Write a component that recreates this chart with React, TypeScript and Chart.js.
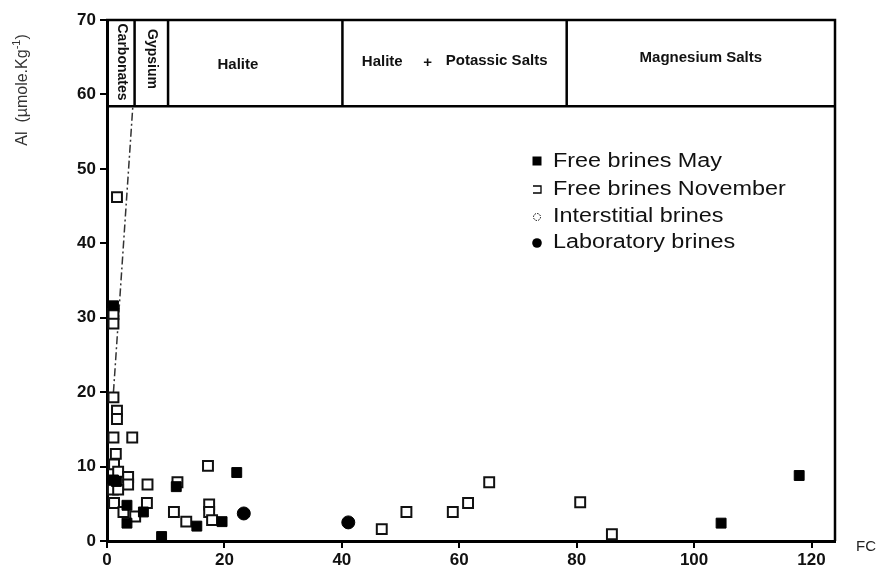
import React, { useEffect, useRef } from "react";
import { Chart, registerables } from "chart.js";

Chart.register(...registerables);

// ---- Data (FC, Al) ----
const mayFC = [1.1, 1.1, 1.6, 3.4, 3.4, 6.2, 9.3, 11.8, 15.3, 19.6, 22.1, 104.6, 117.9];
const mayAl = [31.6, 8.2, 8.0, 4.8, 2.4, 3.9, 0.6, 7.3, 2.0, 2.6, 9.2, 2.4, 8.8];

const novFC = [1.7, 1.1, 1.1, 1.1, 1.7, 1.7, 1.1, 4.3, 1.5, 1.2, 1.9, 3.6, 3.6, 1.0, 1.9, 6.9, 12.0, 17.2, 1.2, 6.8, 2.8, 4.8, 11.4, 13.5, 17.4, 17.4, 17.9, 46.8, 51.0, 58.9, 61.5, 65.1, 80.6, 86.0];
const novAl = [46.2, 30.5, 29.2, 19.3, 17.5, 16.4, 13.9, 13.9, 11.7, 10.3, 9.3, 8.6, 7.6, 6.9, 6.9, 7.6, 7.9, 10.1, 5.1, 5.1, 3.9, 3.3, 3.9, 2.6, 4.9, 3.9, 2.8, 1.6, 3.9, 3.9, 5.1, 7.9, 5.2, 0.9];

const interFC: number[] = [];
const interAl: number[] = [];

const labFC = [23.3, 41.1];
const labAl = [3.7, 2.5];

const trendFC = [1.1, 4.4];
const trendAl = [20, 58.4];

const zoneBounds = [0, 4.7, 10.4, 40.1, 78.3];
const zoneBottom = 58.4;
const zoneLabels = ["Carbonates", "Gypsium", "Halite", "Halite + Potassic Salts", "Magnesium Salts"];

const xTicks = [0, 20, 40, 60, 80, 100, 120];
const yTicks = [0, 10, 20, 30, 40, 50, 60, 70];

const legendLabels = ["Free brines May", "Free brines November", "Interstitial brines", "Laboratory brines"];

const X_MAX = 124;
const Y_MAX = 70;
const FONT = "Arial, 'Liberation Sans', sans-serif";

const pts = (xs: number[], ys: number[]) => xs.map((x, i) => ({ x, y: ys[i] }));

const overlayPlugin = {
  id: "overlay",
  afterDraw(chart: any) {
    const ctx = chart.ctx as CanvasRenderingContext2D;
    const xs = chart.scales.x;
    const ys = chart.scales.y;
    const { left, right, top, bottom } = chart.chartArea;
    const yb = ys.getPixelForValue(zoneBottom);

    ctx.save();
    ctx.strokeStyle = "#000";
    ctx.lineWidth = 2.5;
    // frame top & right
    ctx.beginPath();
    ctx.moveTo(left - 1, top);
    ctx.lineTo(right, top);
    ctx.lineTo(right, bottom);
    ctx.stroke();
    // zone band
    ctx.beginPath();
    ctx.moveTo(left, yb);
    ctx.lineTo(right, yb);
    for (let i = 1; i < zoneBounds.length; i++) {
      const px = xs.getPixelForValue(zoneBounds[i]);
      ctx.moveTo(px, top);
      ctx.lineTo(px, yb);
    }
    ctx.stroke();

    ctx.fillStyle = "#111";
    ctx.textBaseline = "middle";
    ctx.textAlign = "center";
    // rotated labels
    const c0 = (xs.getPixelForValue(zoneBounds[0]) + xs.getPixelForValue(zoneBounds[1])) / 2;
    const c1 = (xs.getPixelForValue(zoneBounds[1]) + xs.getPixelForValue(zoneBounds[2])) / 2;
    ctx.font = `bold 14px ${FONT}`;
    ctx.save();
    ctx.translate(c0 + 1, 62);
    ctx.rotate(Math.PI / 2);
    ctx.fillText(zoneLabels[0], 0, 0);
    ctx.restore();
    ctx.save();
    ctx.translate(c1 + 1, 59);
    ctx.rotate(Math.PI / 2);
    ctx.fillText(zoneLabels[1], 0, 0);
    ctx.restore();

    ctx.font = `bold 15px ${FONT}`;
    ctx.fillText(zoneLabels[2], xs.getPixelForValue(22.3), 65);
    // Halite + Potassic Salts
    const parts = zoneLabels[3].split(" + ");
    ctx.textAlign = "left";
    ctx.fillText(parts[0], xs.getPixelForValue(43.4), 62);
    ctx.textAlign = "center";
    ctx.fillText("+", xs.getPixelForValue(54.6), 63);
    ctx.textAlign = "left";
    ctx.fillText(parts[1], xs.getPixelForValue(57.7), 61);
    ctx.textAlign = "center";
    const c4 = (xs.getPixelForValue(zoneBounds[4]) + right) / 2;
    ctx.fillText(zoneLabels[4], c4, 58);

    // Y axis title
    ctx.save();
    ctx.fillStyle = "#333";
    ctx.translate(23, 90);
    ctx.rotate(-Math.PI / 2);
    ctx.textAlign = "left";
    ctx.textBaseline = "middle";
    const main = "Al  (µmole.Kg";
    const sup = "-1";
    const close = ")";
    ctx.font = `16px ${FONT}`;
    const w1 = ctx.measureText(main).width;
    const w3 = ctx.measureText(close).width;
    ctx.font = `11px ${FONT}`;
    const w2 = ctx.measureText(sup).width;
    let sx = -(w1 + w2 + w3) / 2;
    ctx.font = `16px ${FONT}`;
    ctx.fillText(main, sx, 0);
    sx += w1;
    ctx.font = `11px ${FONT}`;
    ctx.fillText(sup, sx, -6);
    sx += w2;
    ctx.font = `16px ${FONT}`;
    ctx.fillText(close, sx, 0);
    ctx.restore();

    // FC label
    ctx.fillStyle = "#222";
    ctx.font = `15px ${FONT}`;
    ctx.textAlign = "left";
    ctx.fillText("FC", 856, 547);

    // Legend
    const lx = 537;
    const rows = [161, 189, 216, 242];
    ctx.fillStyle = "#000";
    ctx.strokeStyle = "#000";
    // filled square
    ctx.fillRect(lx - 4.5, rows[0] - 4.5, 9, 9);
    // bracket square
    ctx.lineWidth = 1.3;
    ctx.beginPath();
    ctx.moveTo(lx - 4, rows[1] - 3);
    ctx.lineTo(lx + 4, rows[1] - 3);
    ctx.lineTo(lx + 4, rows[1] + 4);
    ctx.lineTo(lx - 4, rows[1] + 4);
    ctx.stroke();
    // dotted circle
    ctx.setLineDash([1.5, 1.2]);
    ctx.lineWidth = 1;
    ctx.beginPath();
    ctx.arc(lx, rows[2] + 1, 3.5, 0, Math.PI * 2);
    ctx.stroke();
    ctx.setLineDash([]);
    // filled circle
    ctx.beginPath();
    ctx.arc(lx, rows[3] + 1, 4.8, 0, Math.PI * 2);
    ctx.fill();

    ctx.fillStyle = "#111";
    ctx.font = `20px ${FONT}`;
    ctx.textAlign = "left";
    ctx.textBaseline = "middle";
    legendLabels.forEach((t, i) => {
      ctx.save();
      ctx.translate(553, rows[i]);
      ctx.scale(1.17, 1);
      ctx.fillText(t, 0, 0);
      ctx.restore();
    });
    ctx.restore();
  },
};

export default function App() {
  const ref = useRef<HTMLCanvasElement | null>(null);

  useEffect(() => {
    if (!ref.current) return;
    const chart = new Chart(ref.current, {
      type: "scatter",
      data: {
        datasets: [
          {
            label: legendLabels[0],
            data: pts(mayFC, mayAl),
            pointStyle: "rect",
            pointRadius: 7,
            backgroundColor: "#000",
            borderColor: "#000",
            borderWidth: 1,
          },
          {
            label: legendLabels[1],
            data: pts(novFC, novAl),
            pointStyle: "rect",
            pointRadius: 7,
            backgroundColor: "#fff",
            borderColor: "#111",
            borderWidth: 2,
          },
          {
            label: legendLabels[2],
            data: pts(interFC, interAl),
            pointStyle: "circle",
            pointRadius: 3,
            backgroundColor: "#fff",
            borderColor: "#000",
            borderWidth: 1,
          },
          {
            label: legendLabels[3],
            data: pts(labFC, labAl),
            pointStyle: "circle",
            pointRadius: 6.5,
            backgroundColor: "#000",
            borderColor: "#000",
            borderWidth: 1,
          },
          {
            label: "trend",
            data: pts(trendFC, trendAl),
            showLine: true,
            borderColor: "#333",
            borderWidth: 1.5,
            borderDash: [8, 3, 2, 3],
            pointRadius: 0,
            fill: false,
          } as any,
        ],
      },
      options: {
        responsive: false,
        animation: false,
        events: [],
        layout: { padding: { left: 0, right: 42, top: 20, bottom: 0 } },
        plugins: {
          legend: { display: false },
          tooltip: { enabled: false },
          title: { display: false },
        },
        scales: {
          x: {
            type: "linear",
            min: 0,
            max: X_MAX,
            afterBuildTicks: (s: any) => {
              s.ticks = xTicks.map((v) => ({ value: v }));
            },
            afterFit: (s: any) => {
              s.height = 31;
            },
            ticks: {
              color: "#111",
              font: { family: FONT, size: 17, weight: "bold" },
              padding: 2,
              maxRotation: 0,
              autoSkip: false,
            },
            grid: {
              drawOnChartArea: false,
              drawTicks: true,
              tickLength: 7,
              color: "#000",
              lineWidth: 2,
            },
            border: { display: true, color: "#000", width: 3 },
          },
          y: {
            type: "linear",
            min: 0,
            max: Y_MAX,
            afterBuildTicks: (s: any) => {
              s.ticks = yTicks.map((v) => ({ value: v }));
            },
            afterFit: (s: any) => {
              s.width = 107;
            },
            ticks: {
              color: "#111",
              font: { family: FONT, size: 17, weight: "bold" },
              padding: 4,
              autoSkip: false,
            },
            grid: {
              drawOnChartArea: false,
              drawTicks: true,
              tickLength: 7,
              color: "#000",
              lineWidth: 2,
            },
            border: { display: true, color: "#000", width: 3 },
          },
        },
      },
      plugins: [overlayPlugin],
    } as any);
    return () => chart.destroy();
  }, []);

  return (
    <div style={{ position: "absolute", left: 0, top: 0, width: 877, height: 572, background: "#fff" }}>
      <canvas ref={ref} width={877} height={572} style={{ display: "block" }} />
    </div>
  );
}
